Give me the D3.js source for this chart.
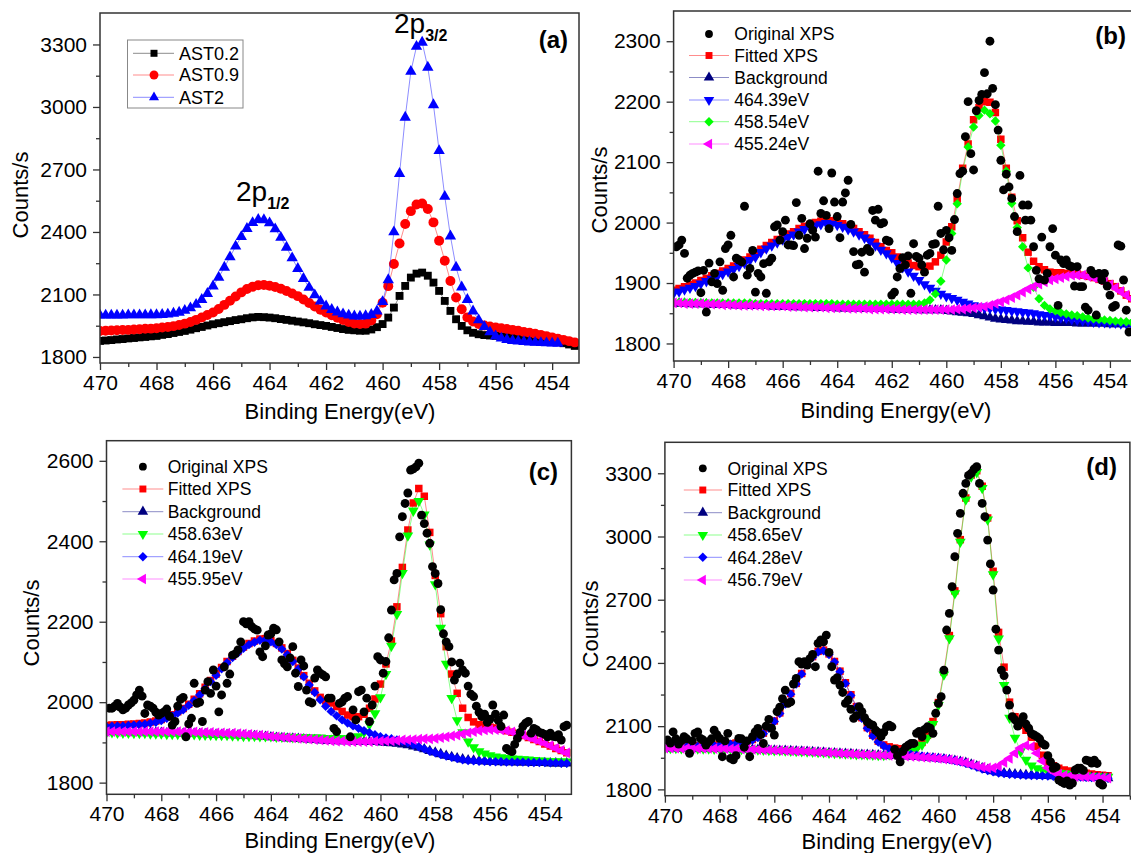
<!DOCTYPE html>
<html>
<head>
<meta charset="utf-8">
<script src="https://cdn.jsdelivr.net/npm/d3@7"></script>
<style>
  body { margin: 0; background: #fff; }
  svg text { font-family: "Liberation Sans", Arial, sans-serif; fill: #000; }
</style>
</head>
<body>
<svg id="chart" width="1131" height="853"></svg>
<script>
// fitted curves are sampled every 0.2 eV from 470 eV, raw spectra every 0.1 eV from 469.9 eV
var FIT_START = 470, FIT_STEP = 0.2;
var RAW_START = 469.9, RAW_STEP = 0.1;

var xTicks = [470, 468, 466, 464, 462, 460, 458, 456, 454];
var aYTicks = [1800, 2100, 2400, 2700, 3000, 3300];
var bYTicks = [1800, 1900, 2000, 2100, 2200, 2300];
var cYTicks = [1800, 2000, 2200, 2400, 2600];
var dYTicks = [1800, 2100, 2400, 2700, 3000, 3300];

// ---- panel (a): three samples
var aNames = ["AST0.2", "AST0.9", "AST2"];
var aAst02 = [1877,1879,1881,1884,1886,1889,1891,1894,1896,1899,
  1901,1906,1910,1915,1920,1925,1931,1938,1944,1951,
  1957,1962,1967,1972,1977,1981,1986,1990,1992,1991,
  1989,1986,1982,1978,1974,1970,1966,1962,1957,1953,
  1949,1944,1939,1934,1930,1928,1926,1926,1932,1943,
  1958,1989,2037,2093,2141,2181,2200,2205,2190,2157,
  2117,2069,2021,1981,1949,1928,1916,1909,1905,1903,
  1901,1899,1897,1895,1893,1890,1888,1885,1883,1880,
  1877,1872,1866,1860,1853];
var aAst09 = [1925,1926,1927,1928,1929,1930,1932,1933,1935,1936,
  1938,1941,1944,1948,1953,1960,1968,1978,1989,2001,
  2013,2030,2050,2070,2090,2110,2126,2137,2144,2145,
  2142,2136,2127,2117,2105,2092,2076,2059,2042,2027,
  2013,2000,1988,1977,1968,1961,1958,1960,1975,2005,
  2060,2140,2246,2345,2438,2500,2532,2537,2510,2446,
  2358,2262,2165,2085,2029,1990,1970,1958,1951,1946,
  1942,1938,1934,1930,1926,1920,1916,1911,1906,1900,
  1894,1888,1882,1876,1870];
var aAst2 = [2000,2000,2000,2000,2000,2001,2001,2001,2001,2002,
  2002,2003,2005,2009,2014,2023,2035,2052,2075,2104,
  2140,2182,2230,2280,2331,2377,2416,2444,2459,2458,
  2443,2414,2373,2326,2275,2224,2176,2133,2097,2067,
  2044,2027,2015,2006,2000,1996,1995,1997,2003,2020,
  2065,2170,2400,2680,2950,3170,3290,3310,3190,3010,
  2790,2570,2380,2230,2135,2075,2020,1977,1945,1920,
  1900,1890,1883,1878,1875,1873,1871,1869,1868,1867,
  1866,1865];

// ---- panel (b)
var bNames = ["Original XPS", "Fitted XPS", "Background", "464.39eV", "458.54eV", "455.24eV"];
var bRaw = [1960,1963,1971,1949,1908,1913,1916,1918,1920,1884,
  1921,1852,1933,1902,1916,1899,1935,1888,1957,1963,
  1979,1910,1941,1938,1935,2027,1913,1924,1954,1885,
  1916,1910,1932,1883,1935,1941,1993,1996,1971,1985,
  2004,1963,1963,1962,2033,1979,2007,1957,1974,1998,
  1987,1976,2085,2015,2036,2012,1990,2082,2034,2010,
  1975,2034,2049,2070,1997,1952,1930,1931,1951,1918,
  1957,1952,2020,2004,2022,1998,2000,1971,1969,1880,
  1885,1910,1924,1942,1930,1945,1883,1965,1944,1941,
  1930,1918,1946,1949,1964,1965,2027,1982,1955,1987,
  1975,1954,2005,2048,2081,2085,2142,2200,2114,2087,
  2185,2202,2212,2248,2213,2300,2222,2195,2153,2103,
  2054,2080,2059,2040,2010,1985,2078,2029,2004,2029,
  2004,1960,1921,1907,1976,1905,1916,1960,1990,1946,
  1863,1938,1932,1938,1929,1927,1895,1927,1894,1894,
  1860,1855,1921,1915,1847,1916,1905,1916,1895,1880,
  1860,1863,1963,1961,1905,1855,1819];
var bFit = [1888,1891,1894,1897,1900,1904,1908,1912,1916,1920,
  1924,1928,1933,1938,1943,1948,1956,1962,1967,1972,
  1977,1981,1985,1990,1994,1997,2000,2002,2004,2003,
  2001,1998,1994,1990,1985,1980,1974,1967,1960,1954,
  1950,1943,1938,1933,1929,1927,1926,1928,1935,1946,
  1968,1993,2039,2090,2130,2170,2190,2200,2199,2182,
  2138,2090,2042,2003,1975,1951,1936,1927,1922,1918,
  1917,1917,1916,1916,1915,1913,1911,1909,1906,1903,
  1899,1894,1887,1880,1874];
var bBg = [1866,1866,1866,1865,1865,1865,1865,1864,1864,1864,
  1864,1863,1863,1863,1862,1862,1862,1862,1861,1861,
  1861,1861,1860,1860,1860,1860,1859,1859,1859,1859,
  1858,1858,1858,1858,1858,1857,1857,1857,1857,1857,
  1856,1856,1856,1856,1856,1855,1855,1855,1855,1855,
  1854,1853,1852,1851,1850,1849,1847,1845,1843,1841,
  1840,1839,1838,1837,1837,1836,1836,1835,1835,1835,
  1834,1834,1834,1834,1833,1833,1833,1833,1833,1833,
  1832,1832,1832,1832,1832];
var bPeak464 = [1883,1886,1889,1892,1895,1899,1903,1907,1911,1915,
  1919,1923,1928,1933,1938,1943,1951,1957,1962,1967,
  1972,1976,1980,1985,1989,1992,1995,1997,1999,1998,
  1996,1993,1989,1985,1980,1975,1969,1962,1955,1949,
  1942,1933,1926,1919,1912,1905,1898,1892,1887,1882,
  1878,1875,1872,1869,1866,1863,1861,1859,1858,1857,
  1856,1855,1854,1853,1852,1851,1850,1848,1847,1846,
  1844,1843,1842,1840,1839,1838,1837,1836,1835,1835,
  1834,1834,1833,1833,1832];
var bPeak458 = [1868,1868,1868,1868,1868,1867,1867,1867,1867,1867,
  1867,1867,1867,1867,1867,1866,1866,1866,1866,1866,
  1866,1866,1866,1866,1866,1866,1866,1866,1866,1866,
  1865,1865,1865,1865,1865,1865,1865,1865,1865,1865,
  1865,1865,1865,1865,1865,1865,1867,1872,1882,1903,
  1938,1982,2031,2085,2125,2158,2177,2186,2180,2168,
  2128,2085,2032,1992,1960,1925,1893,1874,1863,1857,
  1854,1851,1849,1847,1846,1844,1842,1841,1840,1839,
  1838,1837,1836,1836,1835];
var bPeak455 = [1867,1867,1866,1866,1866,1866,1865,1865,1865,1864,
  1864,1864,1863,1863,1863,1863,1862,1862,1862,1862,
  1862,1861,1861,1861,1860,1860,1860,1860,1859,1859,
  1859,1859,1858,1858,1858,1858,1857,1857,1857,1857,
  1857,1857,1856,1856,1856,1856,1856,1856,1856,1856,
  1856,1856,1857,1857,1858,1859,1860,1861,1863,1866,
  1869,1872,1876,1880,1885,1890,1894,1898,1902,1905,
  1907,1909,1911,1913,1913,1913,1911,1909,1906,1902,
  1897,1892,1886,1880,1874];

// ---- panel (c)
var cNames = ["Original XPS", "Fitted XPS", "Background", "458.63eV", "464.19eV", "455.95eV"];
var cRaw = [1985,1985,1990,1997,1988,1981,1985,1993,1998,2005,
  2018,2030,2015,1972,1993,1990,1985,1975,1968,1972,
  1976,1983,1965,1943,1952,1990,2007,2012,1914,1946,
  1960,2047,1997,2000,1952,2030,2051,2022,2080,2040,
  1976,2018,2088,2047,2070,2117,2120,2130,2150,2200,
  2195,2200,2188,2182,2179,2125,2113,2140,2167,2170,
  2184,2180,2150,2105,2095,2088,2110,2138,2072,2039,
  2105,2090,2030,2001,1998,2060,2080,2072,2068,2063,
  2010,2010,1935,1927,1997,2001,2010,2014,1914,1981,
  1956,2026,2030,1976,2010,1952,1993,2040,2113,2105,
  2072,2101,2160,2229,2304,2320,2411,2461,2494,2520,
  2577,2580,2585,2594,2465,2444,2420,2395,2337,2320,
  2295,2230,2170,2150,2138,2100,2055,2070,2097,2080,
  2072,2040,2020,2014,1990,1975,1964,1970,1950,1958,
  1993,1970,1955,1940,1968,1885,1880,1877,1895,1910,
  1925,1940,1948,1952,1923,1935,1931,1925,1923,1920,
  1914,1923,1915,1914,1919,1906,1939,1943];
var cFit = [1942,1943,1944,1944,1945,1946,1947,1948,1951,1953,
  1957,1963,1969,1976,1984,1995,2007,2021,2037,2054,
  2070,2086,2101,2114,2126,2137,2146,2152,2157,2158,
  2153,2146,2135,2121,2104,2085,2066,2047,2028,2012,
  2003,1998,1989,1977,1968,1964,1964,1970,1985,2008,
  2045,2095,2152,2237,2335,2428,2495,2531,2512,2422,
  2315,2220,2138,2070,2022,1985,1962,1951,1944,1940,
  1938,1936,1933,1929,1925,1921,1917,1912,1907,1902,
  1896,1891,1885,1880,1874];
var cBg = [1926,1926,1926,1926,1925,1925,1925,1925,1924,1924,
  1924,1923,1923,1923,1922,1922,1922,1921,1921,1920,
  1920,1919,1919,1918,1918,1917,1916,1916,1915,1914,
  1913,1912,1911,1910,1910,1909,1908,1907,1906,1905,
  1904,1904,1903,1903,1903,1902,1902,1902,1901,1901,
  1900,1899,1898,1897,1895,1893,1890,1887,1883,1879,
  1875,1871,1867,1864,1861,1858,1856,1855,1854,1853,
  1852,1852,1851,1851,1851,1850,1850,1850,1849,1849,
  1849,1848,1848,1848,1848];
var cPeak458 = [1925,1925,1924,1924,1924,1923,1923,1923,1922,1922,
  1922,1921,1921,1921,1920,1920,1920,1919,1919,1919,
  1918,1918,1918,1917,1917,1916,1916,1916,1915,1915,
  1915,1914,1914,1914,1913,1913,1913,1912,1912,1912,
  1911,1911,1911,1910,1910,1910,1915,1925,1945,1972,
  2012,2070,2140,2219,2321,2414,2476,2500,2466,2392,
  2293,2185,2095,2010,1955,1925,1902,1888,1878,1872,
  1868,1865,1863,1861,1860,1859,1858,1857,1856,1855,
  1854,1853,1853,1852,1852];
var cPeak464 = [1939,1940,1941,1941,1942,1943,1944,1945,1948,1950,
  1954,1960,1966,1973,1981,1992,2004,2018,2034,2051,
  2067,2083,2098,2111,2123,2134,2143,2149,2154,2155,
  2150,2143,2132,2118,2101,2082,2063,2043,2024,2006,
  1990,1977,1966,1956,1948,1941,1935,1929,1924,1919,
  1914,1911,1909,1906,1903,1899,1894,1889,1884,1878,
  1874,1870,1866,1863,1860,1857,1855,1854,1853,1853,
  1852,1852,1852,1851,1851,1851,1851,1850,1850,1850,
  1850,1849,1849,1848,1848];
var cPeak456 = [1927,1927,1927,1927,1927,1927,1927,1927,1927,1927,
  1927,1927,1927,1927,1926,1926,1926,1925,1925,1925,
  1924,1924,1923,1923,1922,1921,1920,1919,1918,1917,
  1915,1914,1913,1912,1911,1910,1909,1908,1907,1906,
  1905,1904,1903,1903,1902,1902,1902,1902,1902,1903,
  1903,1904,1904,1905,1906,1906,1907,1908,1909,1909,
  1910,1912,1914,1916,1918,1921,1924,1927,1929,1931,
  1932,1932,1931,1929,1926,1922,1918,1913,1908,1903,
  1898,1892,1886,1880,1874];

// ---- panel (d)
var dNames = ["Original XPS", "Fitted XPS", "Background", "458.65eV", "464.28eV", "456.79eV"];
var dRaw = [2034,2020,2073,2040,2015,2030,2050,2040,1971,2030,
  2066,2073,2042,2034,2010,2025,2040,2081,2060,2042,
  1955,2030,2066,1947,1940,1960,2042,2040,2000,2030,
  1955,2050,2073,2089,2060,2018,2100,2132,2090,2058,
  2169,2190,2230,2271,2208,2215,2300,2327,2406,2395,
  2406,2390,2420,2440,2382,2493,2509,2500,2532,2450,
  2382,2319,2330,2295,2260,2208,2224,2180,2137,2150,
  2192,2169,2140,2120,2110,2105,2081,2070,2050,2070,
  2097,2105,2097,1990,1960,1931,1980,2000,2010,2018,
  2018,2066,2075,2050,2085,2097,2090,2066,2161,2208,
  2240,2366,2556,2635,2762,2904,3015,3110,3205,3252,
  3290,3300,3320,3331,3252,3157,3094,2983,2870,2746,
  2560,2461,2366,2340,2271,2200,2145,2130,2100,2120,
  2145,2110,2090,2065,2058,2050,2040,2018,2010,1960,
  1930,1900,1907,1844,1836,1828,1840,1820,1830,1892,
  1900,1900,1890,1939,1935,1925,1939,1923,1828,1820];
var dFit = [2005,2005,2005,2005,2006,2006,2007,2008,2009,2011,
  2013,2015,2017,2020,2024,2029,2037,2049,2067,2093,
  2125,2163,2208,2255,2303,2350,2395,2430,2455,2461,
  2443,2407,2361,2306,2249,2193,2140,2093,2057,2029,
  2011,2002,1996,1993,1993,1996,2006,2023,2057,2122,
  2212,2358,2530,2742,2985,3183,3292,3312,3238,3088,
  2835,2545,2380,2214,2145,2104,2080,2047,2005,1962,
  1925,1912,1900,1892,1887,1883,1879,1876,1873,1870,
  1867,1865];
var dBg = [1995,1995,1995,1994,1994,1994,1993,1993,1993,1992,
  1992,1992,1991,1991,1990,1990,1989,1988,1987,1986,
  1985,1984,1983,1982,1981,1980,1979,1977,1976,1975,
  1973,1972,1970,1969,1968,1966,1965,1964,1963,1962,
  1961,1960,1959,1958,1957,1956,1954,1952,1950,1948,
  1946,1943,1940,1936,1931,1926,1918,1910,1901,1893,
  1886,1881,1877,1874,1872,1870,1868,1867,1866,1865,
  1864,1863,1862,1861,1860,1859,1858,1857,1856,1855,
  1854,1853];
var dPeak458 = [1996,1996,1996,1995,1995,1995,1994,1994,1994,1993,
  1993,1993,1992,1992,1991,1991,1990,1989,1988,1987,
  1986,1985,1984,1983,1982,1981,1980,1978,1977,1976,
  1974,1973,1971,1970,1969,1967,1966,1965,1964,1963,
  1963,1966,1969,1972,1976,1982,1993,2011,2045,2110,
  2200,2345,2517,2730,2975,3175,3285,3305,3230,3080,
  2820,2515,2295,2140,2045,1980,1940,1913,1900,1893,
  1887,1883,1879,1876,1873,1869,1867,1865,1863,1862,
  1861,1860];
var dPeak464 = [2002,2002,2002,2002,2003,2003,2004,2005,2006,2008,
  2010,2012,2014,2017,2021,2026,2034,2046,2064,2090,
  2122,2160,2205,2252,2300,2347,2392,2427,2452,2458,
  2440,2404,2358,2303,2246,2190,2137,2090,2053,2025,
  2006,1993,1983,1976,1971,1966,1962,1958,1955,1952,
  1949,1946,1942,1937,1931,1924,1915,1906,1897,1889,
  1883,1878,1875,1872,1870,1868,1867,1866,1865,1864,
  1863,1862,1861,1860,1860,1859,1858,1857,1856,1855,
  1854,1853];
var dPeak457 = [1996,1996,1996,1995,1995,1995,1994,1994,1994,1993,
  1993,1993,1992,1992,1991,1991,1990,1989,1988,1987,
  1986,1985,1984,1983,1982,1981,1980,1978,1977,1976,
  1974,1973,1971,1970,1969,1967,1966,1965,1964,1963,
  1962,1961,1960,1959,1958,1957,1955,1953,1951,1949,
  1947,1944,1941,1937,1932,1926,1919,1912,1906,1902,
  1902,1910,1928,1947,1972,1996,2009,2002,1972,1935,
  1902,1884,1872,1866,1863,1861,1860,1859,1858,1856,
  1855,1853];

// ---- styles
var COL = { black: "#000000", red: "#ff0000", navy: "#000080", blue: "#0000ff", green: "#00ff00", magenta: "#ff00ff" };
var SYM = {
  square:  { type: d3.symbolSquare,   rot: 0 },
  circle:  { type: d3.symbolCircle,   rot: 0 },
  up:      { type: d3.symbolTriangle, rot: 0 },
  down:    { type: d3.symbolTriangle, rot: 180 },
  left:    { type: d3.symbolTriangle, rot: -90 },
  diamond: { type: d3.symbolSquare,   rot: 45 }
};

function S(values, color, sym, size, raw) {
  return { values: values, color: color, sym: sym, size: size, raw: !!raw };
}

var panels = [
  { left: 100, top: 13, right: 579, bottom: 363, xDomain: [470, 453.05], yDomain: [1771, 3451],
    yTicks: aYTicks, label: "(a)", labelX: 568, labelY: 48,
    yTitle: [28, 195], xTitle: [340, 419],
    series: [S(aAst02, COL.black, "square", 62), S(aAst09, COL.red, "circle", 78), S(aAst2, COL.blue, "up", 56)],
    legend: { names: aNames, box: [127.5, 40, 115.5, 68], rows: [53.3, 75, 97.3], x0: 133, x1: 174, mx: 154, tx: 179, fs: 18,
      order: [0, 1, 2], sizes: [49, 62, 44] } },
  { left: 673.6, top: 11, right: 1137.2, bottom: 361, xDomain: [470, 453.0], yDomain: [1771, 2350],
    yTicks: bYTicks, label: "(b)", labelX: 1126, labelY: 44,
    yTitle: [607, 190], xTitle: [896, 418],
    series: [S(bFit, COL.red, "square", 56), S(bBg, COL.navy, "up", 50), S(bPeak464, COL.blue, "down", 50),
             S(bPeak458, COL.green, "diamond", 44), S(bPeak455, COL.magenta, "left", 50), S(bRaw, COL.black, "circle", 62, true)],
    legend: { names: bNames, rows: [34, 55.5, 77.5, 100, 121.7, 144], x0: 689, x1: 729, mx: 709, tx: 734.3, fs: 17.5,
      order: [5, 0, 1, 2, 3, 4] } },
  { left: 106.5, top: 440.7, right: 571.4, bottom: 794.3, xDomain: [470, 453.03], yDomain: [1771, 2650],
    yTicks: cYTicks, label: "(c)", labelX: 558, labelY: 480,
    yTitle: [39, 623], xTitle: [340, 848],
    series: [S(cFit, COL.red, "square", 56), S(cBg, COL.navy, "up", 50), S(cPeak458, COL.green, "down", 50),
             S(cPeak464, COL.blue, "diamond", 44), S(cPeak456, COL.magenta, "left", 50), S(cRaw, COL.black, "circle", 62, true)],
    legend: { names: cNames, rows: [466.7, 489, 511.7, 534, 556.7, 579], x0: 122.4, x1: 163.3, mx: 142.9, tx: 167.7, fs: 17.5,
      order: [5, 0, 1, 2, 3, 4] } },
  { left: 664.9, top: 442.3, right: 1129.9, bottom: 795.7, xDomain: [470, 453.0], yDomain: [1770, 3447],
    yTicks: dYTicks, label: "(d)", labelX: 1117, labelY: 475,
    yTitle: [598, 624], xTitle: [897, 849],
    series: [S(dFit, COL.red, "square", 56), S(dBg, COL.navy, "up", 50), S(dPeak458, COL.green, "down", 50),
             S(dPeak464, COL.blue, "diamond", 44), S(dPeak457, COL.magenta, "left", 50), S(dRaw, COL.black, "circle", 62, true)],
    legend: { names: dNames, rows: [468.3, 490, 512.7, 535, 557.3, 580], x0: 683.8, x1: 722, mx: 702.8, tx: 727.5, fs: 17.5,
      order: [5, 0, 1, 2, 3, 4] } }
];

var svg = d3.select("#chart");

function symPath(s, size) {
  return d3.symbol().type(SYM[s.sym].type).size(size || s.size)();
}

function drawPanel(p, k) {
  var w = p.right - p.left, h = p.bottom - p.top;
  var x = d3.scaleLinear().domain(p.xDomain).range([0, w]);
  var y = d3.scaleLinear().domain(p.yDomain).range([h, 0]);
  var g = svg.append("g").attr("transform", "translate(" + p.left + "," + p.top + ")");

  svg.append("clipPath").attr("id", "clip" + k)
    .append("rect").attr("width", w).attr("height", h);
  var plot = g.append("g").attr("clip-path", "url(#clip" + k + ")");

  // curves first, raw dots last
  p.series.forEach(function(s) {
    var pts = s.values.map(function(v, i) {
      var e = s.raw ? RAW_START - RAW_STEP * i : FIT_START - FIT_STEP * i;
      return [x(e), y(v)];
    });
    if (!s.raw) {
      plot.append("path")
        .attr("d", d3.line()(pts))
        .attr("fill", "none")
        .attr("stroke", s.color)
        .attr("stroke-opacity", 0.45)
        .attr("stroke-width", 1);
    }
    var d = symPath(s), r = SYM[s.sym].rot;
    plot.append("g").selectAll("path").data(pts).enter().append("path")
      .attr("d", d)
      .attr("transform", function(q) { return "translate(" + q[0] + "," + q[1] + ")" + (r ? " rotate(" + r + ")" : ""); })
      .attr("fill", s.color);
  });

  // frame
  g.append("rect").attr("width", w).attr("height", h)
    .attr("fill", "none").attr("stroke", "#333").attr("stroke-width", 1.5);

  // axes
  var xMinor = d3.range(469, 452.9, -2).filter(function(t) { return t >= p.xDomain[1]; });
  var yStep = p.yTicks[1] - p.yTicks[0];
  var yMinor = p.yTicks.map(function(t) { return t + yStep / 2; })
    .filter(function(t) { return t < p.yDomain[1] - 5; });

  g.append("g").attr("transform", "translate(0," + h + ")")
    .call(d3.axisBottom(x).tickValues(xTicks).tickFormat(d3.format("d")).tickSize(7).tickSizeOuter(0).tickPadding(5));
  g.append("g").attr("transform", "translate(0," + h + ")")
    .call(d3.axisBottom(x).tickValues(xMinor).tickFormat("").tickSize(4).tickSizeOuter(0));
  g.append("g")
    .call(d3.axisLeft(y).tickValues(p.yTicks).tickFormat(d3.format("d")).tickSize(7).tickSizeOuter(0).tickPadding(6));
  g.append("g")
    .call(d3.axisLeft(y).tickValues(yMinor).tickFormat("").tickSize(4).tickSizeOuter(0));
  g.selectAll(".domain").remove();
  g.selectAll(".tick line").attr("stroke", "#333").attr("stroke-width", 1.3);
  g.selectAll(".tick text").style("font-size", "21px").style("font-family", "'Liberation Sans', Arial, sans-serif").attr("fill", "#000");

  // titles
  svg.append("text").attr("x", p.xTitle[0]).attr("y", p.xTitle[1])
    .attr("text-anchor", "middle").style("font-size", "22px").text("Binding Energy(eV)");
  svg.append("text").attr("transform", "translate(" + p.yTitle[0] + "," + p.yTitle[1] + ") rotate(-90)")
    .attr("text-anchor", "middle").style("font-size", "22px").text("Counts/s");
  svg.append("text").attr("x", p.labelX).attr("y", p.labelY)
    .attr("text-anchor", "end").style("font-size", "24px").style("font-weight", "bold").text(p.label);

  // legend
  var L = p.legend;
  if (L.box) {
    svg.append("rect").attr("x", L.box[0]).attr("y", L.box[1]).attr("width", L.box[2]).attr("height", L.box[3])
      .attr("fill", "#fff").attr("stroke", "#888").attr("stroke-width", 1);
  }
  L.order.forEach(function(si, row) {
    var s = p.series[si], cy = L.rows[row];
    if (!s.raw) {
      svg.append("line").attr("x1", L.x0).attr("x2", L.x1).attr("y1", cy).attr("y2", cy)
        .attr("stroke", s.color).attr("stroke-opacity", 0.45).attr("stroke-width", 1);
    }
    var r = SYM[s.sym].rot;
    svg.append("path").attr("d", symPath(s, L.sizes ? L.sizes[row] : Math.min(s.size, 48)))
      .attr("transform", "translate(" + L.mx + "," + cy + ")" + (r ? " rotate(" + r + ")" : ""))
      .attr("fill", s.color);
    svg.append("text").attr("x", L.tx).attr("y", cy + 6.3)
      .style("font-size", L.fs + "px").text(L.names[row]);
  });
}

panels.forEach(drawPanel);

// peak annotations in panel (a)
function peakLabel(x, y, sub) {
  var t = svg.append("text").attr("x", x).attr("y", y).style("font-size", "28px");
  t.append("tspan").text("2p");
  t.append("tspan").attr("dy", 8).style("font-size", "16px").style("font-weight", "bold").text(sub);
}
peakLabel(236, 201, "1/2");
peakLabel(394, 33, "3/2");
</script>
</body>
</html>
